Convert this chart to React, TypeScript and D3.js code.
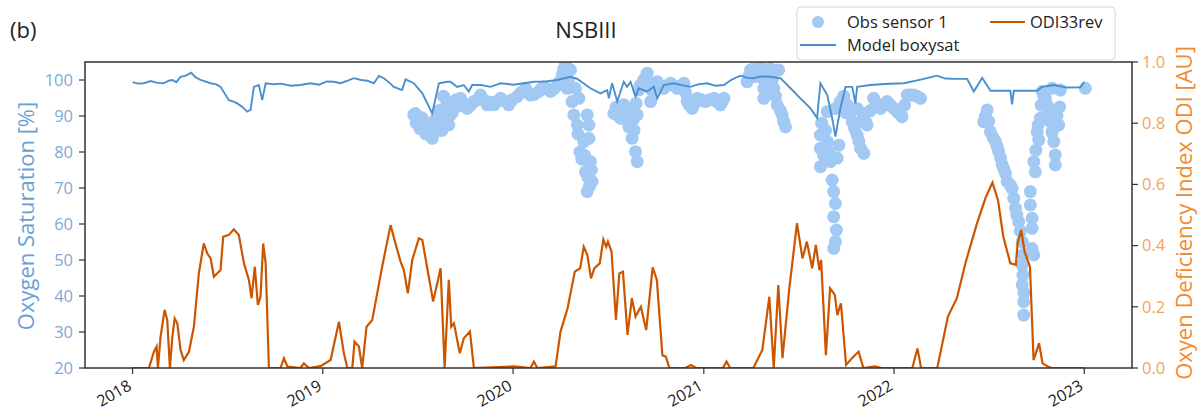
import React from "react";
import * as d3 from "d3";

// time is given in years since 1 Jan 2018
const modelBoxysat: [number, number][] = [
  [0.0, 99.4], [0.03, 99.0], [0.058, 99.1], [0.095, 99.7], [0.13, 99.2], [0.163, 99.1], [0.19, 99.8], [0.209, 100],
  [0.23, 99.4], [0.252, 100.9], [0.28, 101.2], [0.308, 102], [0.33, 100.8], [0.357, 100], [0.38, 99.6], [0.41, 99.1],
  [0.44, 98.8], [0.462, 98.1], [0.506, 94.4], [0.53, 94.0], [0.55, 93.5], [0.58, 92.4], [0.602, 91.2], [0.62, 91.7],
  [0.637, 98.1], [0.663, 98.6], [0.681, 94.4], [0.699, 99.1], [0.742, 98.8], [0.78, 99.0], [0.83, 98.4], [0.882, 98.6],
  [0.935, 99.1], [0.98, 98.7], [1.02, 99.6], [1.057, 99.5], [1.092, 99.1], [1.13, 99.8], [1.162, 100.5], [1.2, 100.0],
  [1.233, 99.8], [1.267, 99.1], [1.294, 101.1], [1.32, 100.5], [1.35, 99.2], [1.372, 98.1], [1.416, 97.2],
  [1.434, 100.2], [1.477, 99.1], [1.522, 96.3], [1.574, 90.7], [1.609, 99.1], [1.653, 99.5], [1.67, 99.5],
  [1.705, 98.1], [1.74, 98.6], [1.766, 96.8], [1.784, 98.6], [1.83, 98.6], [1.88, 98.1], [1.933, 99.1], [2.0, 98.7],
  [2.055, 99.1], [2.108, 99.5], [2.17, 99.6], [2.231, 100], [2.3, 100.9], [2.336, 100.3], [2.405, 97.7],
  [2.458, 96.3], [2.493, 97.2], [2.502, 94.9], [2.519, 99.1], [2.546, 94.0], [2.58, 99.5], [2.598, 98.1],
  [2.616, 99.5], [2.642, 95.4], [2.659, 97.7], [2.703, 96.8], [2.738, 98.1], [2.756, 94.9], [2.79, 98.6],
  [2.843, 99.1], [2.89, 98.5], [2.931, 98.1], [2.97, 98.8], [3.018, 99.1], [3.06, 98.4], [3.106, 98.6],
  [3.15, 100.2], [3.193, 101.2], [3.23, 100.6], [3.263, 100.5], [3.3, 101.0], [3.351, 100.9], [3.403, 100.5],
  [3.456, 97.7], [3.508, 94.9], [3.561, 92.1], [3.596, 89.4], [3.613, 99.1], [3.649, 95.8], [3.675, 89.4],
  [3.692, 84.3], [3.718, 92.1], [3.745, 98.1], [3.78, 98.1], [3.797, 93.5], [3.806, 98.1], [3.876, 98.6],
  [3.95, 98.9], [4.051, 99.1], [4.14, 100.1], [4.226, 101.2], [4.27, 100.4], [4.313, 100.3], [4.384, 100.3],
  [4.419, 96.8], [4.463, 100.6], [4.506, 97.0], [4.611, 97.0], [4.62, 93.2], [4.629, 97.0], [4.752, 97.0],
  [4.778, 98.1], [4.839, 98.6], [4.909, 97.9], [4.979, 98.0], [5.0, 99.5],
];

const odi33rev: [number, number][] = [
  [0, 0], [0.086, 0], [0.112, 0.053], [0.126, 0.07], [0.133, 0], [0.147, 0.102], [0.168, 0.19], [0.182, 0.157],
  [0.196, 0], [0.209, 0.102], [0.221, 0.162], [0.235, 0.146], [0.252, 0.059], [0.269, 0.026], [0.296, 0.053],
  [0.322, 0.135], [0.348, 0.309], [0.374, 0.407], [0.392, 0.375], [0.41, 0.358], [0.427, 0.298], [0.462, 0.32],
  [0.476, 0.429], [0.506, 0.435], [0.532, 0.453], [0.558, 0.435], [0.585, 0.342], [0.611, 0.288], [0.625, 0.228],
  [0.642, 0.331], [0.658, 0.206], [0.672, 0.233], [0.686, 0.407], [0.699, 0.342], [0.716, 0], [0.777, 0],
  [0.795, 0.032], [0.813, 0.005], [0.882, 0], [0.9, 0.015], [0.926, 0], [0.987, 0.006], [1.04, 0.026],
  [1.084, 0.151], [1.11, 0.048], [1.128, 0], [1.154, 0], [1.166, 0.086], [1.189, 0.07], [1.206, 0],
  [1.229, 0.135], [1.259, 0.157], [1.285, 0.244], [1.311, 0.331], [1.355, 0.467], [1.381, 0.407], [1.408, 0.347],
  [1.425, 0.32], [1.446, 0.244], [1.469, 0.353], [1.504, 0.424], [1.522, 0.418], [1.556, 0.298], [1.579, 0.217],
  [1.618, 0.326], [1.639, 0], [1.661, 0.288], [1.674, 0.135], [1.688, 0.146], [1.719, 0.048], [1.74, 0.097],
  [1.772, 0.119], [1.793, 0], [2.003, 0.005], [2.09, 0], [2.108, 0.021], [2.126, 0], [2.222, 0.005],
  [2.248, 0.119], [2.285, 0.195], [2.323, 0.315], [2.351, 0.326], [2.37, 0.396], [2.389, 0.369], [2.408, 0.293],
  [2.426, 0.326], [2.454, 0.342], [2.473, 0.42], [2.488, 0.396], [2.497, 0.413], [2.516, 0.38], [2.539, 0.157],
  [2.557, 0.309], [2.576, 0.315], [2.6, 0.108], [2.623, 0.228], [2.642, 0.168], [2.67, 0.2], [2.698, 0.124],
  [2.732, 0.329], [2.754, 0.288], [2.783, 0.042], [2.801, 0.037], [2.82, 0], [2.904, 0], [2.933, 0.01],
  [2.961, 0], [3.101, 0], [3.12, 0.021], [3.139, 0], [3.261, 0], [3.308, 0.059], [3.345, 0.233], [3.368, 0],
  [3.392, 0.271], [3.414, 0.032], [3.449, 0.255], [3.49, 0.473], [3.519, 0.358], [3.542, 0.413], [3.57, 0.326],
  [3.589, 0.402], [3.608, 0.32], [3.617, 0.353], [3.642, 0.042], [3.664, 0.26], [3.689, 0.239], [3.702, 0.173],
  [3.721, 0.211], [3.748, 0.01], [3.786, 0.037], [3.814, 0.053], [3.839, 0], [3.899, 0.005], [3.936, 0],
  [4.096, 0], [4.123, 0.064], [4.142, 0], [4.227, 0], [4.283, 0.168], [4.33, 0.228], [4.377, 0.347],
  [4.433, 0.467], [4.48, 0.555], [4.517, 0.606], [4.546, 0.549], [4.574, 0.429], [4.611, 0.342], [4.64, 0.337],
  [4.649, 0.407], [4.668, 0.451], [4.686, 0.38], [4.714, 0.331], [4.733, 0.026], [4.762, 0.081], [4.78, 0.015],
  [4.808, 0.005], [4.827, 0], [5.0, 0],
];

const obsSensor1: [number, number][] = [
  // 2019 summer / autumn
  [1.477, 90.3], [1.486, 90.7], [1.49, 88.0], [1.504, 88.9], [1.51, 86.5], [1.52, 89.5], [1.53, 87.0],
  [1.54, 85.0], [1.556, 86.1], [1.565, 88.0], [1.574, 83.8], [1.585, 85.5], [1.59, 89.0], [1.6, 87.0],
  [1.61, 91.5], [1.618, 88.9], [1.625, 86.0], [1.633, 95.5], [1.635, 90.7], [1.645, 92.5], [1.653, 94.0],
  [1.661, 87.5], [1.67, 90.3], [1.68, 91.0], [1.688, 93.5], [1.7, 94.5], [1.71, 92.8], [1.723, 94.9],
  [1.74, 93.5], [1.758, 92.1], [1.775, 93.0], [1.793, 94.0], [1.81, 94.5], [1.828, 95.8], [1.845, 94.5],
  [1.863, 93.1], [1.88, 93.8], [1.898, 93.1], [1.915, 94.0], [1.933, 94.9], [1.955, 94.2], [1.976, 93.1],
  [1.995, 94.5], [2.02, 95.4], [2.04, 96.5], [2.064, 97.7], [2.077, 96.5], [2.09, 95.8], [2.11, 96.0],
  [2.134, 96.8], [2.145, 97.5], [2.16, 98.1], [2.178, 97.5], [2.195, 96.8], [2.213, 97.5], [2.231, 98.6],
  [2.243, 99.5], [2.257, 101.4], [2.265, 103.0], [2.274, 104.2], [2.283, 97.7], [2.29, 100.0], [2.3, 102.8],
  [2.309, 94.0], [2.318, 90.3], [2.326, 97.7], [2.336, 87.5], [2.34, 85.0], [2.344, 94.9], [2.35, 80.0],
  [2.36, 78.0], [2.37, 82.9], [2.375, 79.0], [2.379, 74.5], [2.388, 90.3], [2.388, 69.0], [2.392, 73.0],
  [2.397, 87.5], [2.397, 83.8], [2.4, 70.5], [2.405, 77.3], [2.41, 75.0], [2.414, 71.8],
  // 2020 summer / autumn
  [2.528, 90.7], [2.54, 92.5], [2.547, 91.2], [2.555, 90.0], [2.563, 89.4], [2.572, 91.5], [2.58, 93.1],
  [2.593, 90.5], [2.6, 88.5], [2.607, 87.0], [2.616, 92.1], [2.624, 83.8], [2.63, 89.0], [2.634, 86.0],
  [2.642, 80.1], [2.645, 93.5], [2.651, 77.3], [2.651, 90.3], [2.659, 97.2], [2.667, 98.5], [2.685, 100],
  [2.694, 100.5], [2.703, 101.9], [2.712, 98.0], [2.721, 94.0], [2.73, 97.0], [2.74, 99.0], [2.756, 99.5],
  [2.773, 98.5], [2.79, 97.7], [2.808, 98.5], [2.826, 99.1], [2.843, 98.4], [2.861, 97.7], [2.878, 98.3],
  [2.896, 99.1], [2.905, 96.5], [2.913, 94.0], [2.925, 93.0], [2.94, 92.1], [2.953, 93.5], [2.966, 94.9],
  [2.988, 94.5], [3.009, 94.0], [3.03, 94.5], [3.053, 94.9], [3.07, 94.0], [3.088, 93.1], [3.097, 94.0],
  [3.106, 94.9],
  // 2021 spring
  [3.228, 99.5], [3.237, 101.0], [3.246, 102.8], [3.26, 103.0], [3.27, 101.0], [3.285, 102.5], [3.298, 103.7],
  [3.307, 100.5], [3.316, 97.7], [3.316, 94.9], [3.325, 97.0], [3.333, 100], [3.342, 101.5], [3.351, 103.2],
  [3.36, 100.0], [3.368, 97.7], [3.377, 95.5], [3.386, 93.1], [3.394, 102.8], [3.403, 91.5], [3.412, 90.3],
  [3.42, 88.5], [3.43, 87.0],
  // 2021 summer - 2022 winter
  [3.613, 84.7], [3.613, 81.0], [3.613, 75.9], [3.62, 88.0], [3.63, 79.0], [3.64, 86.0], [3.649, 82.9],
  [3.649, 91.2], [3.658, 80.0], [3.666, 77.3], [3.675, 72.2], [3.683, 69.0], [3.692, 65.7], [3.683, 62.0],
  [3.697, 58.3], [3.692, 55.1], [3.683, 53.2], [3.71, 81.9], [3.701, 78.3], [3.692, 92.1], [3.718, 94.0],
  [3.728, 92.5], [3.736, 95.5], [3.745, 91.0], [3.754, 93.1], [3.767, 90.5], [3.78, 88.4], [3.793, 86.5],
  [3.806, 84.7], [3.815, 83.0], [3.824, 81.0], [3.832, 89.0], [3.841, 79.6], [3.806, 92.1], [3.841, 90.7],
  [3.85, 88.5], [3.858, 87.5], [3.875, 91.5], [3.893, 94.9], [3.91, 93.5], [3.929, 92.1], [3.946, 93.0],
  [3.964, 94.0], [3.98, 93.0], [3.998, 92.1], [4.02, 91.0], [4.042, 89.8], [4.055, 93.0], [4.069, 95.8],
  [4.086, 95.8], [4.103, 95.8], [4.12, 95.5], [4.139, 94.9],
  // 2022 summer / autumn
  [4.471, 88.4], [4.48, 90.0], [4.489, 91.7], [4.497, 88.5], [4.506, 85.6], [4.52, 84.0], [4.533, 82.9],
  [4.542, 81.5], [4.55, 80.1], [4.56, 78.3], [4.568, 76.4], [4.577, 75.3], [4.585, 74.1], [4.594, 71.8],
  [4.61, 70.8], [4.62, 69.9], [4.629, 67.1], [4.638, 64.4], [4.645, 62.5], [4.655, 60.6], [4.664, 58.0],
  [4.673, 55.1], [4.678, 51.5], [4.673, 48.6], [4.677, 45.8], [4.673, 43.1], [4.682, 40.8], [4.681, 38.4],
  [4.681, 34.7], [4.716, 69.0], [4.716, 65.3], [4.725, 61.6], [4.725, 58.8], [4.725, 53.2], [4.734, 51.4],
  [4.734, 77.3], [4.742, 74.5], [4.745, 80.5], [4.752, 85.6], [4.757, 87.5], [4.76, 83.3], [4.769, 89.4],
  [4.773, 93.0], [4.778, 96.8], [4.787, 95.5], [4.795, 94.9], [4.804, 93.0], [4.813, 91.2], [4.821, 88.4],
  [4.83, 85.5], [4.839, 82.9], [4.847, 79.2], [4.847, 76.4], [4.83, 97.7], [4.856, 90.0], [4.865, 87.5],
  [4.87, 92.5], [4.874, 97.2], [5.005, 97.7],
];

const yearTicks = [2018, 2019, 2020, 2021, 2022, 2023];
const satTicks = [20, 30, 40, 50, 60, 70, 80, 90, 100];
const odiTicks = [0, 0.2, 0.4, 0.6, 0.8, 1.0];

const W = 1197, H = 412;
const left = 85, right = 1132, top = 62, bottom = 368;
const FONT = "'Open Sans', 'DejaVu Sans', sans-serif";

const toDate = (t: number) => new Date(Date.UTC(2018, 0, 1) + t * 365.25 * 864e5);

export default function App() {
  const x = d3.scaleUtc().domain([toDate(-0.25), toDate(5.25)]).range([left, right]);
  const ySat = d3.scaleLinear().domain([20, 105]).range([bottom, top]);
  const yOdi = d3.scaleLinear().domain([0, 1]).range([bottom, top]);

  const modelLine = d3.line<[number, number]>()
    .x(d => x(toDate(d[0])))
    .y(d => ySat(d[1]));
  const odiLine = d3.line<[number, number]>()
    .x(d => x(toDate(d[0])))
    .y(d => yOdi(d[1]));

  return (
    <>
      <style>{`body{margin:0}`}</style>
      <svg width={W} height={H} style={{ display: "block", background: "#fff" }} fontFamily={FONT}>
        <defs>
          <clipPath id="plot">
            <rect x={left} y={top} width={right - left} height={bottom - top} />
          </clipPath>
        </defs>

        <text x={10} y={38} fontSize={22} fill="#222">(b)</text>
        <text x={586} y={38} fontSize={22} fill="#222" textAnchor="middle">NSBIII</text>

        <g clipPath="url(#plot)">
          {obsSensor1.map((d, i) => (
            <circle key={i} cx={x(toDate(d[0]))} cy={ySat(d[1])} r={6.5} fill="#a1c9f4" />
          ))}
          <path d={modelLine(modelBoxysat) || ""} fill="none" stroke="#4a8fd0" strokeWidth={1.9} />
          <path d={odiLine(odi33rev) || ""} fill="none" stroke="#cc5500" strokeWidth={2.2} />
        </g>

        {/* frame */}
        <rect x={left} y={top} width={right - left} height={bottom - top} fill="none" stroke="#333" strokeWidth={1.5} />

        {/* x axis */}
        {yearTicks.map(yr => {
          const px = x(new Date(Date.UTC(yr, 0, 1)));
          return (
            <g key={yr}>
              <line x1={px} x2={px} y1={bottom} y2={bottom + 6} stroke="#333" strokeWidth={1.2} />
              <text transform={`translate(${px},${389}) rotate(-30)`} textAnchor="end" fontSize={16} fill="#222">{yr}</text>
            </g>
          );
        })}

        {/* left axis */}
        {satTicks.map(v => (
          <g key={v}>
            <line x1={left - 6} x2={left} y1={ySat(v)} y2={ySat(v)} stroke="#333" strokeWidth={1.2} />
            <text x={left - 12} y={ySat(v)} dy="0.35em" textAnchor="end" fontSize={16.5} fill="#7fa9d6">{v}</text>
          </g>
        ))}
        <text transform={`translate(25,216) rotate(-90)`} textAnchor="middle" dominantBaseline="central" fontSize={22} fill="#6a9fd4">
          Oxygen Saturation [%]
        </text>

        {/* right axis */}
        {odiTicks.map(v => (
          <g key={v}>
            <line x1={right} x2={right + 6} y1={yOdi(v)} y2={yOdi(v)} stroke="#333" strokeWidth={1.2} />
            <text x={right + 10} y={yOdi(v)} dy="0.35em" fontSize={16.5} fill="#f5a35c">{v.toFixed(1)}</text>
          </g>
        ))}
        <text transform={`translate(1183,213) rotate(-90)`} textAnchor="middle" dominantBaseline="central" fontSize={22} fill="#f28a2e">
          Oxyen Deficiency Index ODI [AU]
        </text>

        {/* legend */}
        <g>
          <rect x={797} y={7} width={318} height={53} rx={4} fill="#fff" fillOpacity={0.85} stroke="#d6d6d6" />
          <circle cx={818} cy={22} r={6} fill="#a1c9f4" />
          <text x={847} y={22} dy="0.35em" fontSize={16.5} fill="#222">Obs sensor 1</text>
          <line x1={800} x2={836} y1={45} y2={45} stroke="#4a8fd0" strokeWidth={2} />
          <text x={847} y={45} dy="0.35em" fontSize={16.5} fill="#222">Model boxysat</text>
          <line x1={990} x2={1025} y1={22} y2={22} stroke="#cc5500" strokeWidth={2.2} />
          <text x={1030} y={22} dy="0.35em" fontSize={16.5} fill="#222">ODI33rev</text>
        </g>
      </svg>
    </>
  );
}
